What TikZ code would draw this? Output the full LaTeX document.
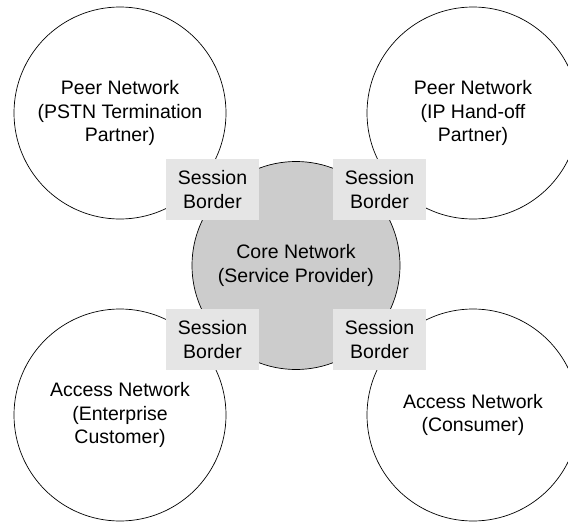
\documentclass[tikz,border=0pt]{standalone}
\usepackage{fontspec}
\setmainfont{Liberation Sans}
\usetikzlibrary{positioning}

\begin{document}
\begin{tikzpicture}[x=1pt, y=-1pt,
    txt/.style={align=center, font=\fontsize{19.5}{23.5}\selectfont},
    net/.style={txt, draw, circle, line width=0.7pt, inner sep=0pt},
    peer/.style={net, minimum size=212pt},
    core/.style={net, fill=gray!40, minimum size=208pt},
    sbc/.style={txt, fill=gray!20, minimum width=93pt,
                minimum height=61pt, inner sep=0pt},
  ]
  \useasboundingbox (0,0) rectangle (568,522);

  \node[peer] (pstn)  at (120,113) {Peer Network\\(PSTN Termination\\Partner)};
  \node[peer] (iphand) at (473,113) {Peer Network\\(IP Hand-off\\Partner)};
  \node[peer] (enter) at (120,415) {Access Network\\(Enterprise\\Customer)};
  \node[peer] (consu) at (473,415) {Access Network\\(Consumer)};
  \node[core] (core)  at (296,265.5) {Core Network\\(Service Provider)};

  \node[sbc] (sbcTL) at (212.5,189.5) {Session\\Border};
  \node[sbc] (sbcTR) at (379.5,189.5) {Session\\Border};
  \node[sbc] (sbcBL) at (212.5,339.5) {Session\\Border};
  \node[sbc] (sbcBR) at (379.5,339.5) {Session\\Border};
\end{tikzpicture}
\end{document}
